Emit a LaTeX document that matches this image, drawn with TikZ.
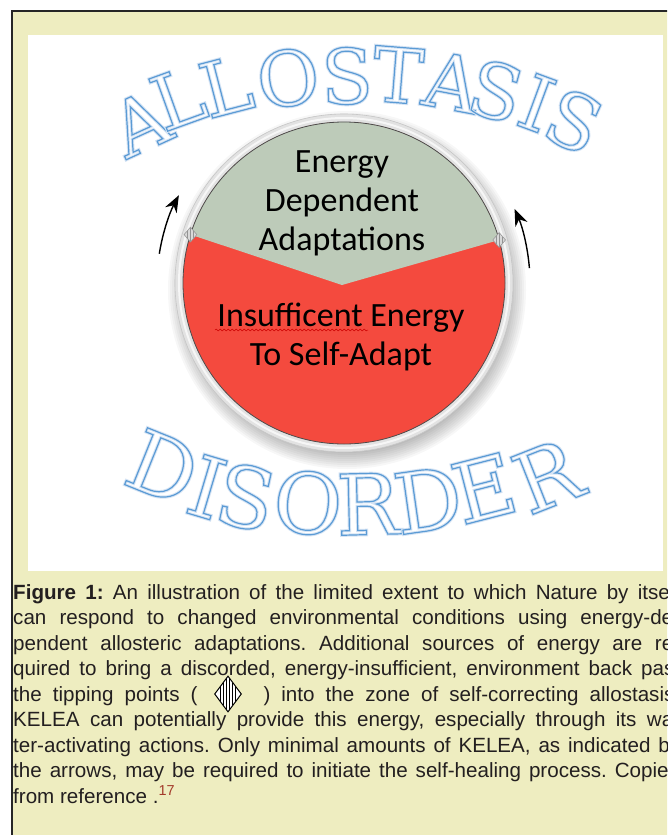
\documentclass[tikz,border=0pt]{standalone}
\usepackage{fontspec}
\setmainfont{Liberation Sans}
\newfontfamily\calib{Carlito}
\newfontfamily\serifw{DejaVu Serif}
\usetikzlibrary{arrows.meta,decorations.pathmorphing,shapes.geometric}
\definecolor{bgy}{HTML}{EEEDC0}
\definecolor{capgreen}{HTML}{BDCBB9}
\definecolor{capred}{HTML}{F44A3E}
\definecolor{wordblue}{HTML}{5B9BD5}
\definecolor{wordglow}{HTML}{D6E4F4}
\definecolor{captxt}{HTML}{231F20}
\definecolor{refred}{HTML}{A33A2A}
\definecolor{ringgray}{HTML}{E2E2E2}
\newcommand\outl[1]{\rlap{\color{wordglow}\special{pdf:literal direct 1 Tr 3.2 w}#1\special{pdf:literal direct 0 Tr}}\special{pdf:literal direct 1 Tr 1.2 w}#1\special{pdf:literal direct 0 Tr}}
\begin{document}
\begin{tikzpicture}[x=1pt,y=-1pt,
  toplet/.style={inner sep=0pt, text=wordblue, font=\serifw\fontsize{76}{76}\selectfont},
  botlet/.style={inner sep=0pt, text=wordblue, font=\serifw\fontsize{84}{84}\selectfont},
  captext/.style={inner sep=0pt, anchor=base west, text=captxt, font=\fontsize{20.6}{25.5}\selectfont\frenchspacing},
  intext/.style={inner sep=0pt, anchor=base, text=black, font=\calib\fontsize{34}{40}\selectfont},
  tippt/.style={diamond, draw=gray!80, fill=gray!30, line width=0.6pt, minimum width=13pt, minimum height=15pt, inner sep=0pt,
    path picture={\foreach \dx in {-3,0,3} \draw[gray!85, line width=0.7pt] ([xshift=\dx pt]path picture bounding box.north) -- ([xshift=\dx pt]path picture bounding box.south);}},
  capdiam/.style={diamond, draw=black, fill=white, line width=1pt, minimum width=27pt, minimum height=36pt, inner sep=0pt,
    path picture={\foreach \dx in {-7.5,-4.5,-1.5,1.5,4.5,7.5} \draw[black, line width=1.4pt] ([xshift=\dx pt]path picture bounding box.north) -- ([xshift=\dx pt]path picture bounding box.south);}},
  kelea/.style={line width=1.4pt, -{Stealth[length=17pt,width=13pt]}}
]
\useasboundingbox (0,0) rectangle (667,835);
\clip (0,0) rectangle (667,835);
\fill[white] (0,0) rectangle (667,835);
\fill[bgy] (12,11) rectangle (700,900);
\draw[line width=2.6pt, black!85] (12,11) rectangle (700,900);
\fill[white] (28,35) rectangle (663,571);

% ALLOSTASIS
\node[toplet, rotate=24.6]  (t1) at (140,123) {\outl{A}};
\node[toplet, rotate=19.8]  (t2) at (178,98) {\outl{L}};
\node[toplet, rotate=14.5]  (t3) at (226,86) {\outl{L}};
\node[toplet, rotate=7.5]   (t4) at (288,78) {\outl{O}};
\node[toplet, rotate=1.0]   (t5) at (347,76) {\outl{S}};
\node[toplet, rotate=-4.6]  (t6) at (398,75) {\outl{T}};
\node[toplet, rotate=-10.6] (t7) at (452,82) {\outl{A}};
\node[toplet, rotate=-15.4] (t8) at (496,91) {\outl{S}};
\node[toplet, rotate=-20.2] (t9) at (537,103) {\outl{I}};
\node[toplet, rotate=-24.6] (t10) at (574,121) {\outl{S}};

% DISORDER
\node[botlet, rotate=-21.9] (b1) at (163,467) {\outl{D}};
\node[botlet, rotate=-16.6] (b2) at (207,487) {\outl{I}};
\node[botlet, rotate=-12.2] (b3) at (246,497) {\outl{S}};
\node[botlet, rotate=-5.2]  (b4) at (308,503) {\outl{O}};
\node[botlet, rotate=1.4]   (b5) at (368,504) {\outl{R}};
\node[botlet, rotate=8.1]   (b6) at (428,500) {\outl{D}};
\node[botlet, rotate=14.4]  (b7) at (484,488) {\outl{E}};
\node[botlet, rotate=21.5]  (b8) at (547,476) {\outl{R}};

% circle
\coordinate (C) at (344,283);
\foreach \r in {179,177,...,161} \fill[black, opacity=0.03] ([shift={(3,7)}]C) circle (\r);
\fill[ringgray] (C) circle (169);
\draw[gray!45, line width=0.6pt] (C) circle (169);
\draw[white, line width=2pt, opacity=0.7] (C) circle (165);
\fill[capred] (C) circle (161);
\coordinate (PL) at ([shift={(197.5:161)}]C);
\coordinate (PR) at ([shift={(344.5:161)}]C);
\coordinate (V) at (342,285);
\fill[capgreen] (PL) arc[start angle=197.5, end angle=344.5, radius=161] -- (V) -- cycle;
\draw[black!70, line width=0.8pt] (C) circle (161);
\node[tippt] (tl) at (PL) {};
\node[tippt] (tr) at (PR) {};

% KELEA arrows
\coordinate (al) at ([shift={(189:187)}]C);
\coordinate (ar) at ([shift={(355.4:186)}]C);
\draw[kelea] (al) arc[start angle=189, end angle=208, radius=187];
\draw[kelea] (ar) arc[start angle=355.4, end angle=336.5, radius=186];

% circle texts
\node[intext] (e1) at (342,172) {Energy};
\node[intext] (e2) at (342,211) {Dependent};
\node[intext] (e3) at (342,250) {Adaptations};
\node[intext] (i1) at (341,326) {Insufficent Energy};
\node[intext] (i2) at (341,365) {To Self-Adapt};
\coordinate (w1) at (215,330);
\coordinate (w2) at (368,330);
\draw[red!80!black, line width=0.5pt, decorate, decoration={snake, segment length=4pt, amplitude=0.9pt}] (w1) -- (w2);

% caption
\node[captext] (c1) at (13,599) {\makebox[667pt][s]{\textbf{Figure 1:} An illustration of the limited extent to which Nature by itself}};
\node[captext] (c2) at (13,624.5) {\makebox[667pt][s]{can respond to changed environmental conditions using energy-de-}};
\node[captext] (c3) at (13,650) {\makebox[667pt][s]{pendent allosteric adaptations. Additional sources of energy are re-}};
\node[captext] (c4) at (13,675.5) {\makebox[667pt][s]{quired to bring a discorded, energy-insufficient, environment back past}};
\node[captext] (c5) at (13,701) {\makebox[667pt][s]{the tipping points (\hspace*{66pt}) into the zone of self-correcting allostasis.}};
\node[captext] (c6) at (13,726.5) {\makebox[667pt][s]{KELEA can potentially provide this energy, especially through its wa-}};
\node[captext] (c7) at (13,752) {\makebox[667pt][s]{ter-activating actions. Only minimal amounts of KELEA, as indicated by}};
\node[captext] (c8) at (13,777.5) {\makebox[667pt][s]{the arrows, may be required to initiate the self-healing process. Copied}};
\node[captext] (c9) at (13,803) {from reference .\textsuperscript{\color{refred}17}};
\node[capdiam] (cd) at (228,694) {};
\end{tikzpicture}
\end{document}
